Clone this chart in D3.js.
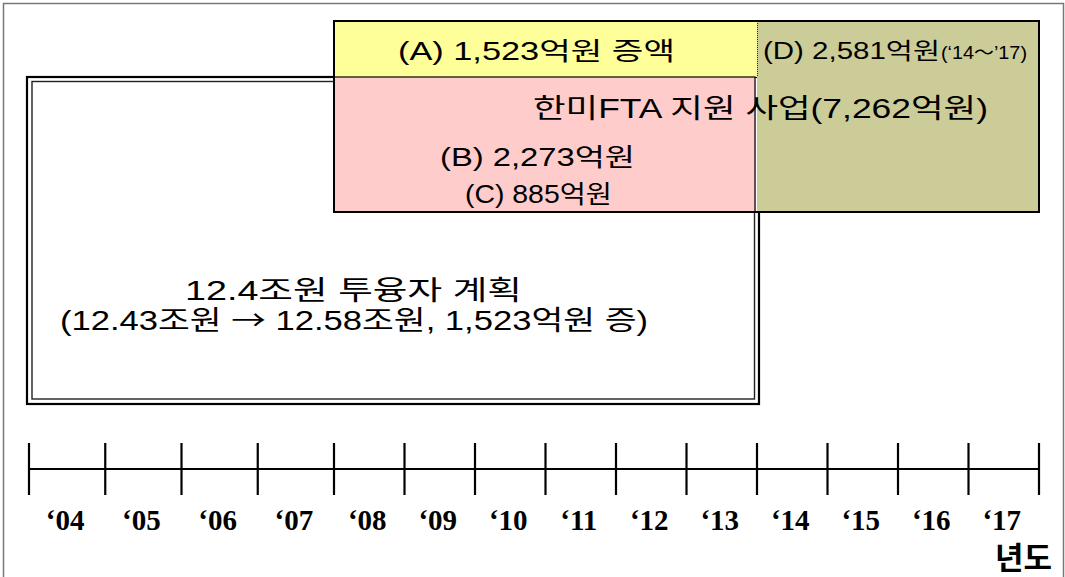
<!DOCTYPE html>
<meta charset="utf-8">
<script src="https://cdn.jsdelivr.net/npm/d3@7"></script>
<style>
  body { margin: 0; background: #fff; }
  text { font-family: "Liberation Sans", "Noto Sans CJK KR", sans-serif; fill: #000; }
  .arrow { font-family: "Noto Sans CJK KR", sans-serif; }
</style>
<body>
<div id="chart"></div>
<script>

  // ----- data
  var yearLabels = ["\u201804", "\u201805", "\u201806", "\u201807", "\u201808", "\u201809", "\u201810",
                    "\u201811", "\u201812", "\u201813", "\u201814", "\u201815", "\u201816", "\u201817"]
  var firstYear = 2004
  var lastYear = 2018           // end of '17
  var planSpan = [2004, 2014]   // 12.4조원 투융자 계획
  var ftaSpan = [2008, 2014]    // (A) (B) (C)
  var extSpan = [2014, 2018]    // (D) '14~'17
  var planTitle = "12.4조원 투융자 계획"
  var planDetail = ["(12.43조원 ", "→", " 12.58조원, 1,523억원 증)"]
  var labelA = "(A) 1,523억원  증액"
  var labelB = "(B) 2,273억원"
  var labelC = "(C) 885억원"
  var labelD = "(D) 2,581억원"
  var labelDsub = "(\u201814\uff5e\u201917)"
  var ftaTitle = "한미FTA 지원 사업(7,262억원)"
  var axisTitle = "년도"

  var width = 1065
  var height = 577

  var svg = d3.select("#chart")
              .append("svg")
              .attr("width", width)
              .attr("height", height)

  // the drawing isn't quite even: first four years are a bit wider
  var x = d3.scaleLinear()
            .domain([firstYear, 2008, lastYear])
            .range([29, 334, 1039])

  // ----- outer gray frame (no bottom edge visible)
  svg.append("path")
     .attr("d", "M3.5," + height + "V3.5H1063.5V" + height)
     .attr("fill", "none")
     .attr("stroke", "#777")
     .attr("stroke-width", 1.5)

  // ----- plan box (double border)
  svg.append("rect")
     .attr("x", x(planSpan[0]) - 2)
     .attr("y", 77)
     .attr("width", x(planSpan[1]) - x(planSpan[0]) + 4)
     .attr("height", 327)
     .attr("fill", "#fff")
     .attr("stroke", "#000")
     .attr("stroke-width", 2.2)
  svg.append("rect")
     .attr("x", x(planSpan[0]) + 3)
     .attr("y", 81.5)
     .attr("width", x(planSpan[1]) - x(planSpan[0]) - 5.5)
     .attr("height", 317.5)
     .attr("fill", "none")
     .attr("stroke", "#222")
     .attr("stroke-width", 1.4)

  // ----- FTA boxes
  var boxTop = 21, splitY = 77, boxBottom = 212
  svg.append("rect")
     .attr("x", x(ftaSpan[0]))
     .attr("y", boxTop)
     .attr("width", x(ftaSpan[1]) - x(ftaSpan[0]))
     .attr("height", splitY - boxTop)
     .attr("fill", "#ffff99")
  svg.append("rect")
     .attr("x", x(extSpan[0]))
     .attr("y", boxTop)
     .attr("width", x(extSpan[1]) - x(extSpan[0]))
     .attr("height", boxBottom - boxTop)
     .attr("fill", "#cccc99")
  svg.append("rect")
     .attr("x", x(ftaSpan[0]))
     .attr("y", splitY)
     .attr("width", x(ftaSpan[1]) - x(ftaSpan[0]) - 2)
     .attr("height", boxBottom - splitY)
     .attr("fill", "#ffcccc")
     .attr("stroke", "#111")
     .attr("stroke-width", 1.3)
  svg.append("line")
     .attr("x1", x(extSpan[0]) + 0.5).attr("x2", x(extSpan[0]) + 0.5)
     .attr("y1", boxTop).attr("y2", splitY)
     .attr("stroke", "#333")
     .attr("stroke-width", 1)
     .attr("stroke-dasharray", "1,1")
  svg.append("rect")
     .attr("x", x(ftaSpan[0]))
     .attr("y", boxTop)
     .attr("width", x(extSpan[1]) - x(ftaSpan[0]))
     .attr("height", boxBottom - boxTop)
     .attr("fill", "none")
     .attr("stroke", "#000")
     .attr("stroke-width", 2)

  // ----- texts in boxes
  function label(str, tx, ty, size, len) {
    return svg.append("text")
       .attr("x", tx).attr("y", ty)
       .attr("textLength", len).attr("lengthAdjust", "spacingAndGlyphs")
       .style("font-size", size + "px")
       .text(str)
  }
  label(labelA, 398, 60, 25, 277)
  label(labelD, 763, 59, 23, 177)
  label(labelDsub, 941, 59, 18, 86)
  label(ftaTitle, 533, 118, 27, 455)
  label(labelB, 440, 166, 25, 195)
  label(labelC, 465, 203, 25, 147)
  label(planTitle, 185, 300, 27, 337)

  var detail = svg.append("text")
     .attr("x", 60).attr("y", 330)
     .attr("textLength", 588).attr("lengthAdjust", "spacingAndGlyphs")
     .style("font-size", "27px")
  detail.selectAll("tspan")
     .data(planDetail)
     .enter()
     .append("tspan")
     .attr("class", function(d, i) { return i == 1 ? "arrow" : null })
     .text(function(d) { return d })

  // ----- year axis
  var axisY = 469
  svg.append("line")
     .attr("x1", x(firstYear)).attr("x2", x(lastYear))
     .attr("y1", axisY).attr("y2", axisY)
     .attr("stroke", "#000")
     .attr("stroke-width", 2.2)

  var edges = d3.range(firstYear, lastYear + 1)
  svg.selectAll(".tick")
     .data(edges)
     .enter()
     .append("line")
     .attr("class", "tick")
     .attr("x1", function(d) { return x(d) })
     .attr("x2", function(d) { return x(d) })
     .attr("y1", axisY - 26)
     .attr("y2", axisY + 26)
     .attr("stroke", "#000")
     .attr("stroke-width", 2.2)

  svg.selectAll(".year")
     .data(yearLabels)
     .enter()
     .append("text")
     .attr("class", "year")
     .attr("x", function(d, i) { return (x(firstYear + i) + x(firstYear + i + 1)) / 2 - 2 })
     .attr("y", 530)
     .attr("text-anchor", "middle")
     .style("font-family", "'Liberation Serif', serif")
     .style("font-weight", "bold")
     .style("font-size", "29px")
     .text(function(d) { return d })

  svg.append("text")
     .attr("x", 1052).attr("y", 569)
     .attr("text-anchor", "end")
     .style("font-family", "'Noto Sans CJK KR', sans-serif")
     .style("font-weight", "bold")
     .style("font-size", "31px")
     .text(axisTitle)

</script>
</body>
